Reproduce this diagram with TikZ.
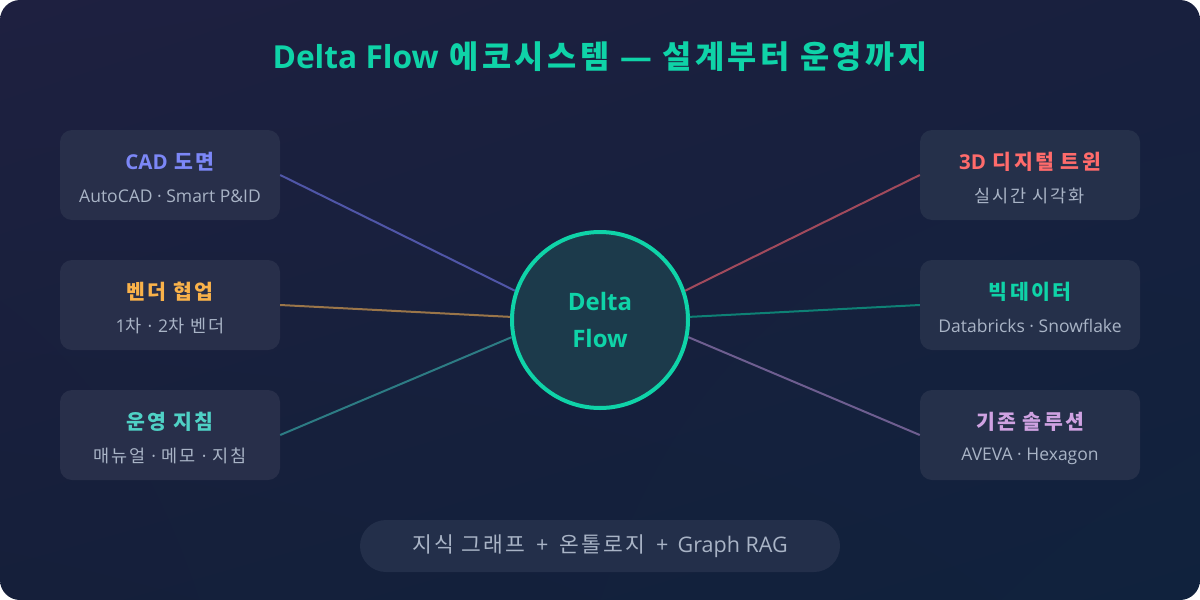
\documentclass[tikz,border=0pt]{standalone}
\usepackage{fontspec}
\setmainfont{Noto Sans CJK KR}[LetterSpace=11]
\newfontfamily\latinfont{Open Sans}
\newcommand{\lt}[1]{{\latinfont #1}}
\usetikzlibrary{positioning, shadings}

\definecolor{bgTL}{HTML}{1E2040}
\definecolor{bgTR}{HTML}{18203E}
\definecolor{bgBL}{HTML}{151F3A}
\definecolor{bgBR}{HTML}{10223D}
\definecolor{cardL}{HTML}{282F4A}
\definecolor{cardR}{HTML}{25304A}
\definecolor{pillbg}{HTML}{232F4A}
\definecolor{hubfill}{HTML}{1C3A4B}
\definecolor{mint}{HTML}{0FD3A8}
\definecolor{subgray}{HTML}{A9B4C6}
\definecolor{cadC}{HTML}{7C87F7}
\definecolor{cadL}{HTML}{5056A8}
\definecolor{vendC}{HTML}{F9B24A}
\definecolor{vendL}{HTML}{9A7549}
\definecolor{opsC}{HTML}{4FD1C5}
\definecolor{opsL}{HTML}{2D7C84}
\definecolor{twinC}{HTML}{FF6B6B}
\definecolor{twinL}{HTML}{A14A5C}
\definecolor{bigL}{HTML}{0E8175}
\definecolor{legC}{HTML}{CFA2E2}
\definecolor{legL}{HTML}{6E5E90}

\tikzset{
    card/.style={rounded corners=12pt, minimum width=220pt, minimum height=90pt, inner sep=0pt},
    cardtitle/.style={font=\bfseries\fontsize{20.5}{24}\selectfont, inner sep=0pt},
    cardsub/.style={font=\fontsize{17.5}{20}\selectfont, text=subgray, inner sep=0pt},
    link/.style={line width=2pt}
}

\begin{document}
\begin{tikzpicture}[x=1pt, y=-1pt]
        \useasboundingbox ( 0, 0 ) rectangle ( 1200, 600 );
        % фон
        \shade [upper left=bgTL, upper right=bgTR, lower left=bgBL, lower right=bgBR, rounded corners=20pt] ( 0, 0 ) rectangle ( 1200, 600 );

        % заголовок
        \node [font=\bfseries\fontsize{31.7}{36}\selectfont, text=mint] (title) at ( 600, 57 ) {\lt{Delta Flow} 에코시스템 \lt{—} 설계부터 운영까지};

        % центр
        \node [circle, minimum size=176pt, fill=hubfill, draw=mint, line width=4pt, align=center, text=mint, font=\latinfont\bfseries\fontsize{24}{37}\selectfont] (hub) at ( 600, 320 ) {Delta\\Flow};

        % слева 1
        \node [card, fill=cardL] (cad) at ( 170, 175 ) {};
        \node [cardtitle, text=cadC] (cadT) at ( 170, 162 ) {\lt{CAD} 도면};
        \node [cardsub] (cadS) at ( 170, 196 ) {\lt{AutoCAD · Smart P\&ID}};
        % слева 2
        \node [card, fill=cardL] (vend) at ( 170, 305 ) {};
        \node [cardtitle, text=vendC] (vendT) at ( 170, 292 ) {벤더 협업};
        \node [cardsub] (vendS) at ( 170, 326 ) {\lt{1}차 \lt{·} \lt{2}차 벤더};
        % слева 3
        \node [card, fill=cardL] (ops) at ( 170, 435 ) {};
        \node [cardtitle, text=opsC] (opsT) at ( 170, 422 ) {운영 지침};
        \node [cardsub] (opsS) at ( 170, 456 ) {매뉴얼 \lt{·} 메모 \lt{·} 지침};

        % справа 1
        \node [card, fill=cardR] (twin) at ( 1030, 175 ) {};
        \node [cardtitle, text=twinC] (twinT) at ( 1030, 162 ) {\lt{3D} 디지털 트윈};
        \node [cardsub] (twinS) at ( 1030, 196 ) {실시간 시각화};
        % справа 2
        \node [card, fill=cardR] (big) at ( 1030, 305 ) {};
        \node [cardtitle, text=mint] (bigT) at ( 1030, 292 ) {빅데이터};
        \node [cardsub] (bigS) at ( 1030, 326 ) {\lt{Databricks · Snowflake}};
        % справа 3
        \node [card, fill=cardR] (leg) at ( 1030, 435 ) {};
        \node [cardtitle, text=legC] (legT) at ( 1030, 422 ) {기존 솔루션};
        \node [cardsub] (legS) at ( 1030, 456 ) {\lt{AVEVA · Hexagon}};

        % связи
        \draw [link, cadL] (cad.east) -- (hub.161);
        \draw [link, vendL] (vend.east) -- (hub.178);
        \draw [link, opsL] (ops.east) -- (hub.191);
        \draw [link, twinL] (twin.west) -- (hub.19);
        \draw [link, bigL] (big.west) -- (hub.2);
        \draw [link, legL] (leg.west) -- (hub.-11);

        % внизу
        \node [rounded corners=26pt, fill=pillbg, minimum width=480pt, minimum height=52pt, text=subgray, font=\fontsize{21.5}{24}\selectfont] (kg) at ( 600, 546 ) {지식 그래프 \lt{\,+\,} 온톨로지 \lt{\,+\, Graph RAG}};
    \end{tikzpicture}
\end{document}
